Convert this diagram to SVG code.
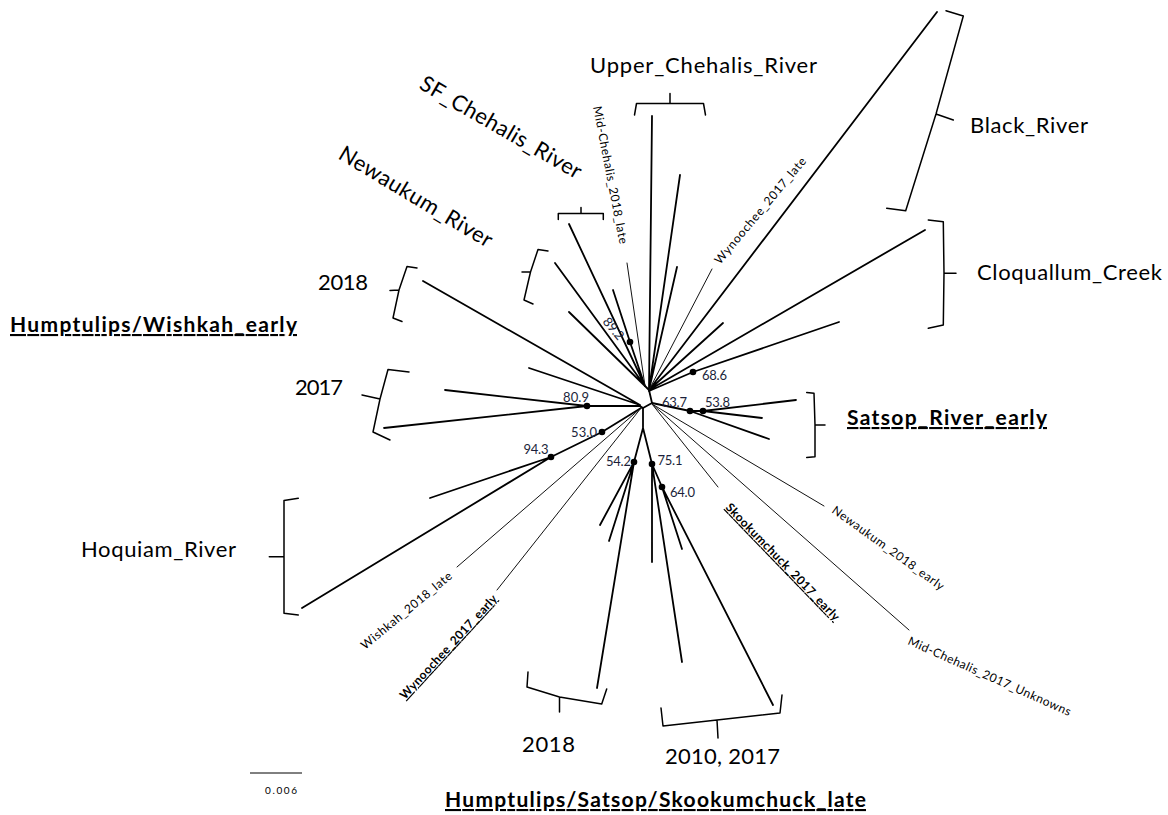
<svg xmlns="http://www.w3.org/2000/svg" width="1168" height="815" viewBox="0 0 1168 815">
<style>
.br{stroke:#000;stroke-width:1.8;fill:none;stroke-linecap:round;stroke-linejoin:round}
.tn{stroke:#111;stroke-width:1;fill:none;stroke-linecap:round}
.bk{stroke:#000;stroke-width:1.5;fill:none;stroke-linejoin:round;stroke-linecap:round}
.dot{fill:#000}
text{font-family:Lato,"Liberation Sans",sans-serif;fill:#000}
.big{font-size:22px}
.ul{font-size:21px;font-weight:bold;text-decoration:underline}
.sm{font-size:12px}
.smb{font-size:12px;font-weight:bold;text-decoration:underline}
.bs{font-size:13px;fill:#1b1f3a}
.sc{font-size:10px}
</style>
<rect width="1168" height="815" fill="#fff"/>

<g id="connectors">
  <path class="br" d="M569,224 L645,386 M555,263 L645,386 M569,312 L645,386 M613,290 L630,342 L645,386"/>
  <path class="br" d="M652,116 L649,390 M680,175 L649,390 M677,267 L649,390 M937,12 L649,390 M723,323 L649,390 M925,230 L649,390 M649,391 L693,372 L839,322"/>
  <path class="br" d="M652,403 L690,411 L703,411 L796,400 M703,411 L762,418 M690,411 L769,439"/>
  <path class="br" d="M640,406 L587,406 L445,390 M587,406 L384,428 M640,405 L423,281 M640,405 L529,368 M641,408 L602,432 L551,457 L430,498 M551,457 L302,608"/>
  <path class="br" d="M643,408 L643,428 L634,462 L600,525 M634,462 L609,541 M634,462 L597,688 M643,428 L652,464 L652,562 M652,464 L682,662 M652,464 L662,487 L682,549 M662,487 L773,705"/>
  <path class="br" d="M645,386 L649,390 L652,403 L643,408 L640,406"/>
  <path class="tn" d="M627,263 L645,386 M712,269 L649,390 M652,404 L718,487 M652,404 L824,506 M652,404 L909,630 M641,408 L457,567 M641,408 L497,590"/>
</g>

<g id="support">
  <circle class="dot" cx="630" cy="342" r="3.3"/>
  <circle class="dot" cx="693" cy="372" r="3.3"/>
  <circle class="dot" cx="690" cy="411" r="3.3"/>
  <circle class="dot" cx="703" cy="411" r="3.3"/>
  <circle class="dot" cx="587" cy="406" r="3.3"/>
  <circle class="dot" cx="602" cy="432" r="3.3"/>
  <circle class="dot" cx="551" cy="457" r="3.3"/>
  <circle class="dot" cx="634" cy="462" r="3.3"/>
  <circle class="dot" cx="652" cy="464" r="3.3"/>
  <circle class="dot" cx="662" cy="487" r="3.3"/>
  <text class="bs" transform="translate(602,322) rotate(50)" textLength="25">89.2</text>
  <text class="bs" x="702" y="379.5" textLength="25">68.6</text>
  <text class="bs" x="662" y="406.5" textLength="25">63.7</text>
  <text class="bs" x="705" y="406.5" textLength="25">53.8</text>
  <text class="bs" x="563" y="401.5" textLength="26">80.9</text>
  <text class="bs" x="571" y="436.5" textLength="26">53.0</text>
  <text class="bs" x="523.5" y="454" textLength="25">94.3</text>
  <text class="bs" x="606" y="466" textLength="25">54.2</text>
  <text class="bs" x="657.5" y="465" textLength="25">75.1</text>
  <text class="bs" x="670" y="497" textLength="25">64.0</text>
</g>

<g id="upper-chehalis">
  <path class="bk" d="M634.5,115 L636.5,103.5 L703.5,103.5 L705.5,115 M670,103.5 L670,93.5"/>
  <text class="big" x="590" y="73" textLength="227">Upper_Chehalis_River</text>
</g>

<g id="black-river">
  <path class="bk" d="M946,10.7 L963.3,16 L936,114 L905.7,210.7 L886.7,208.3 M936,114 L953.3,120"/>
  <text class="big" x="970" y="133" textLength="118">Black_River</text>
</g>

<g id="cloquallum-creek">
  <path class="bk" d="M928.3,220 L943.3,221.7 L944,273.3 L943.3,325 L928.3,328.3 M944,273.3 L956,273.3"/>
  <text class="big" x="977" y="280" textLength="185">Cloquallum_Creek</text>
</g>

<g id="sf-chehalis">
  <path class="bk" d="M558.3,219.5 L558.3,213.5 L603.3,213.5 L603.3,219.5 M581,213.5 L581,207.5"/>
  <text class="big" transform="translate(418,88) rotate(30)" textLength="183">SF_Chehalis_River</text>
</g>

<g id="newaukum-river">
  <path class="bk" d="M548,251 L538,249.5 L530.5,272 L524,300 L533,304 M530.5,272 L522,272"/>
  <text class="big" transform="translate(337,158) rotate(31)" textLength="175">Newaukum_River</text>
</g>

<g id="mid-chehalis-2018-late">
  <text class="sm" transform="translate(593,107) rotate(79)" textLength="140">Mid-Chehalis_2018_late</text>
</g>

<g id="wynoochee-2017-late">
  <text class="sm" transform="translate(720,265) rotate(-50)" textLength="135">Wynoochee_2017_late</text>
</g>

<g id="humptulips-wishkah-early">
  <path class="bk" d="M417,268 L407,266.5 L399,290 L393,318 L402,321.5 M399,290 L390,290.5"/>
  <text class="big" x="318" y="290" textLength="50">2018</text>
  <path class="bk" d="M409,372 L388,369.5 L380,399 L373,432 L390,440 M380,399 L362,395"/>
  <text class="big" x="295" y="395" textLength="48">2017</text>
  <text class="ul" x="10" y="332" textLength="287">Humptulips/Wishkah_early</text>
</g>

<g id="satsop-river-early">
  <path class="bk" d="M806.7,392.5 L814,393.3 L815,425 L815,456.7 L806.7,457.5 M815,425 L825,425"/>
  <text class="ul" x="847" y="425" textLength="200">Satsop_River_early</text>
</g>

<g id="hoquiam-river">
  <path class="bk" d="M298.3,498.3 L284,500.5 L284,556.5 L284,613.3 L298.3,615 M284,556.5 L269.3,556.7"/>
  <text class="big" x="81" y="557" textLength="155">Hoquiam_River</text>
</g>

<g id="wishkah-2018-late">
  <text class="sm" transform="translate(365,650) rotate(-39.5)" textLength="114">Wishkah_2018_late</text>
</g>

<g id="wynoochee-2017-early">
  <text class="smb" transform="translate(405,700) rotate(-47.3)" textLength="137">Wynoochee_2017_early</text>
</g>

<g id="skookumchuck-2017-early">
  <text class="smb" transform="translate(725,508) rotate(46)" textLength="158">Skookumchuck_2017_early</text>
</g>

<g id="newaukum-2018-early">
  <text class="sm" transform="translate(831,512) rotate(35.7)" textLength="135">Newaukum_2018_early</text>
</g>

<g id="mid-chehalis-2017-unknowns">
  <text class="sm" transform="translate(907,644) rotate(24)" textLength="177">Mid-Chehalis_2017_Unknowns</text>
</g>

<g id="hss-late">
  <path class="bk" d="M528,672 L527,687 L559.5,697 L601.7,704 L606.7,689 M559.5,697 L559.5,712"/>
  <text class="big" x="522" y="752" textLength="53">2018</text>
  <path class="bk" d="M661,708 L663,726 L717,720 L780,713 L782,695 M717,720 L718,738"/>
  <text class="big" x="665" y="764" textLength="115">2010, 2017</text>
  <text class="ul" x="445" y="807" textLength="421">Humptulips/Satsop/Skookumchuck_late</text>
</g>

<g id="scale-bar">
  <line x1="250" y1="773" x2="302" y2="773" stroke="#000" stroke-width="1"/>
  <text class="sc" x="265" y="794" textLength="32">0.006</text>
</g>
</svg>
